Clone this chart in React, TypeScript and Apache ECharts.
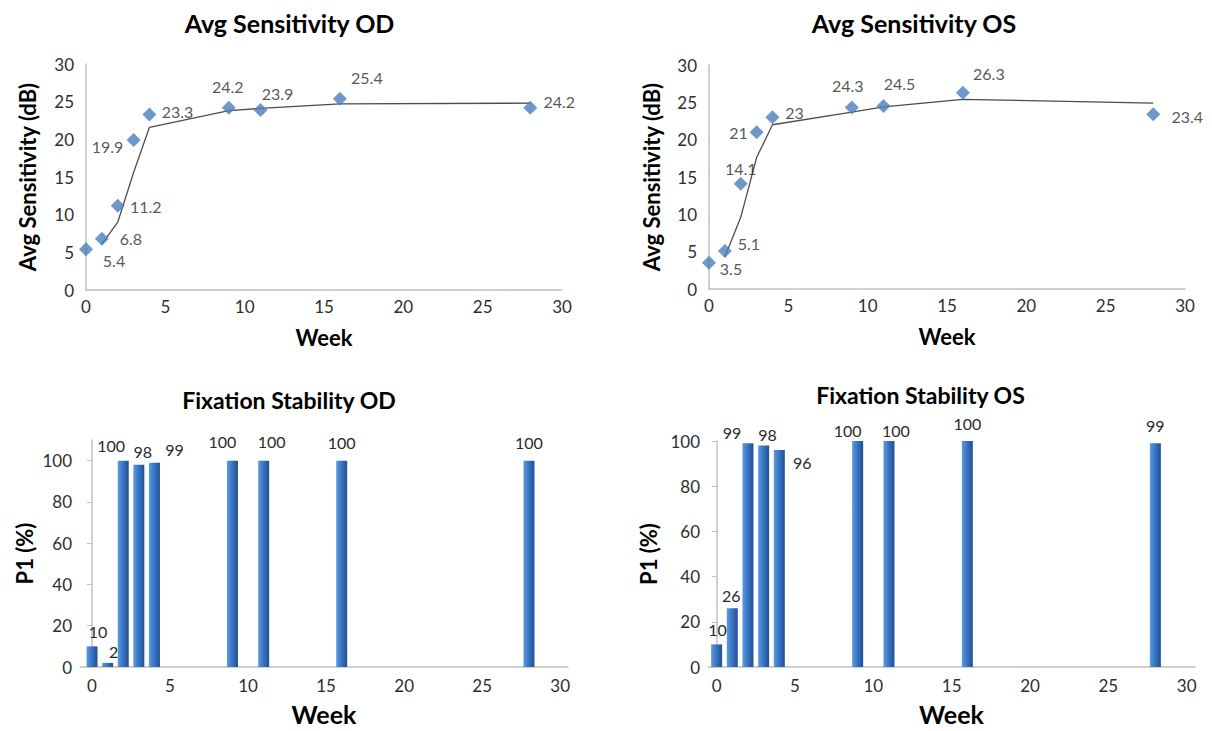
import React, { useEffect, useRef } from "react";
import * as echarts from "echarts";

// ---- data ----
const weeks = [0, 1, 2, 3, 4, 9, 11, 16, 28];
const odSensitivity = [5.4, 6.8, 11.2, 19.9, 23.3, 24.2, 23.9, 25.4, 24.2];
const osSensitivity = [3.5, 5.1, 14.1, 21, 23, 24.3, 24.5, 26.3, 23.4];
const trendWeeks = [1, 2, 3, 4, 9, 11, 16, 28];
const odTrend = [6.1, 9.0, 15.6, 21.6, 23.8, 24.1, 24.7, 24.8];
const osTrend = [4.3, 9.6, 17.6, 22.0, 23.7, 24.4, 25.4, 24.9];
const odP1 = [10, 2, 100, 98, 99, 100, 100, 100, 100];
const osP1 = [10, 26, 99, 98, 96, 100, 100, 100, 99];
const weekTicks = [0, 5, 10, 15, 20, 25, 30];
const p1Ticks = [0, 20, 40, 60, 80, 100];

// ---- label placement (style, not data) ----
const odSensLabelOffsets = [[28, 11], [29, 0], [28, 1], [-26, 6], [28, -3], [-1, -21], [17, -16], [27, -21], [29, -6]];
const osSensLabelOffsets = [[22, 6], [24, -7], [0, -15], [-18, 0], [22, -5], [-4, -22], [16, -23], [26, -19], [34, 2]];
const odBarLabelOffsets = [[6, -2], [6, 2], [-12, -2], [4, 0], [20, 0], [-10, -6], [8, -6], [0, -5], [0, -5]];
const osBarLabelOffsets = [[1, -2], [-1, 0], [-16, 2], [4, 2], [23, 25], [-10, 2], [7, 2], [0, -5], [0, -5]];

const FONT = "Lato, 'Noto Sans', sans-serif";
const TICK_COLOR = "#2e2e2e";
const LABEL_COLOR = "#2a2a2a";
const AXIS_COLOR = "#c0c0c0";
const MARK_BLUE = "#4a7ebb";

const barGradient = {
  type: "linear",
  x: 0,
  y: 0,
  x2: 1,
  y2: 0,
  colorStops: [
    { offset: 0, color: "#5c9be0" },
    { offset: 0.45, color: "#3a76c4" },
    { offset: 1, color: "#224f92" },
  ],
};

function sensAxisX(gridIndex: number) {
  return {
    type: "value",
    gridIndex,
    min: 0,
    max: 30,
    interval: 5,
    axisLine: { show: true, lineStyle: { color: AXIS_COLOR, width: 1.5 } },
    axisTick: { show: false },
    splitLine: { show: false },
    axisLabel: { fontSize: 17, color: TICK_COLOR, fontFamily: FONT, margin: 8 },
    name: "Week",
    nameLocation: "middle",
    nameGap: 36,
    nameTextStyle: { fontSize: 22, fontWeight: "bold", color: "#000", fontFamily: FONT },
  };
}

function sensAxisY(gridIndex: number, gap: number) {
  return {
    type: "value",
    gridIndex,
    min: 0,
    max: 30,
    interval: 5,
    axisLine: { show: true, lineStyle: { color: AXIS_COLOR, width: 1.5 } },
    axisTick: { show: false },
    splitLine: { show: false },
    axisLabel: { fontSize: 17, color: TICK_COLOR, fontFamily: FONT, margin: 12 },
    name: "Avg Sensitivity (dB)",
    nameLocation: "middle",
    nameGap: gap,
    nameRotate: 90,
    nameTextStyle: { fontSize: 22, fontWeight: "bold", color: "#000", fontFamily: FONT },
  };
}

function barAxisX(gridIndex: number, min: number, max: number) {
  return {
    type: "value",
    gridIndex,
    min,
    max,
    axisLine: { show: true, lineStyle: { color: AXIS_COLOR, width: 1.5 } },
    axisTick: { show: false },
    splitLine: { show: false },
    axisLabel: { fontSize: 17, color: TICK_COLOR, fontFamily: FONT, margin: 10, customValues: weekTicks },
    name: "Week",
    nameLocation: "middle",
    nameGap: 34,
    nameTextStyle: { fontSize: 25, fontWeight: "bold", color: "#000", fontFamily: FONT, lineHeight: 26 },
  };
}

function barAxisY(gridIndex: number, max: number, gap: number) {
  return {
    type: "value",
    gridIndex,
    min: 0,
    max,
    axisLine: { show: true, lineStyle: { color: AXIS_COLOR, width: 1.5 } },
    axisTick: { show: true, length: 5, lineStyle: { color: AXIS_COLOR }, customValues: p1Ticks },
    splitLine: { show: false },
    axisLabel: { fontSize: 17, color: TICK_COLOR, fontFamily: FONT, margin: 8, customValues: p1Ticks },
    name: "P1 (%)",
    nameLocation: "middle",
    nameGap: gap,
    nameRotate: 90,
    nameTextStyle: { fontSize: 22, fontWeight: "bold", color: "#000", fontFamily: FONT },
  };
}

function scatterSeries(idx: number, values: number[], offsets: number[][]) {
  return {
    type: "scatter",
    xAxisIndex: idx,
    yAxisIndex: idx,
    symbol: "diamond",
    symbolSize: 14,
    itemStyle: { color: MARK_BLUE },
    z: 3,
    data: weeks.map((w, i) => ({
      value: [w, values[i]],
      label: { offset: offsets[i] },
    })),
    label: {
      show: true,
      position: "inside",
      align: "center",
      verticalAlign: "middle",
      fontSize: 16,
      color: LABEL_COLOR,
      fontFamily: FONT,
      formatter: (p: any) => String(p.value[1]),
    },
  };
}

function trendSeries(idx: number, values: number[]) {
  return {
    type: "line",
    xAxisIndex: idx,
    yAxisIndex: idx,
    showSymbol: false,
    symbol: "none",
    lineStyle: { color: "#4d4d4d", width: 1.3 },
    z: 2,
    data: trendWeeks.map((w, i) => [w, values[i]]),
  };
}

function barSeries(idx: number, values: number[], offsets: number[][]) {
  return {
    type: "bar",
    xAxisIndex: idx,
    yAxisIndex: idx,
    barWidth: 11,
    itemStyle: { color: barGradient },
    data: weeks.map((w, i) => ({
      value: [w, values[i]],
      label: { offset: offsets[i] },
    })),
    label: {
      show: true,
      position: "top",
      distance: 5,
      fontSize: 16,
      color: LABEL_COLOR,
      fontFamily: FONT,
      formatter: (p: any) => String(p.value[1]),
    },
  };
}

function titleText(text: string, x: number, y: number, size: number) {
  return {
    type: "text",
    x,
    y,
    style: {
      text,
      align: "center",
      verticalAlign: "middle",
      fontSize: size,
      fontWeight: "bold",
      fontFamily: FONT,
      fill: "#000",
    },
  };
}

export default function App() {
  const ref = useRef<HTMLDivElement>(null);

  useEffect(() => {
    if (!ref.current) return;
    const chart = echarts.init(ref.current, null, { renderer: "svg" });
    const option: any = {
      animation: false,
      backgroundColor: "#ffffff",
      graphic: [
        titleText("Avg Sensitivity OD", 289.5, 23, 25),
        titleText("Avg Sensitivity OS", 914, 23, 25),
        titleText("Fixation Stability OD", 289, 400, 23),
        titleText("Fixation Stability OS", 920.5, 395, 23),
      ],
      grid: [
        { left: 86, top: 64, width: 476, height: 226 },
        { left: 709, top: 65, width: 476, height: 224 },
        { left: 80, top: 440, width: 488, height: 227 },
        { left: 708, top: 441, width: 487, height: 226 },
      ],
      xAxis: [
        sensAxisX(0),
        sensAxisX(1),
        barAxisX(2, -0.77, 30.5),
        barAxisX(3, -0.55, 30.53),
      ],
      yAxis: [
        sensAxisY(0, 48),
        sensAxisY(1, 47),
        barAxisY(2, 110, 45),
        barAxisY(3, 100, 49),
      ],
      series: [
        trendSeries(0, odTrend),
        scatterSeries(0, odSensitivity, odSensLabelOffsets),
        trendSeries(1, osTrend),
        scatterSeries(1, osSensitivity, osSensLabelOffsets),
        barSeries(2, odP1, odBarLabelOffsets),
        barSeries(3, osP1, osBarLabelOffsets),
      ],
    };
    chart.setOption(option);
    return () => chart.dispose();
  }, []);

  return (
    <div
      ref={ref}
      style={{ position: "absolute", left: 0, top: 0, width: 1212, height: 731, background: "#fff" }}
    />
  );
}
